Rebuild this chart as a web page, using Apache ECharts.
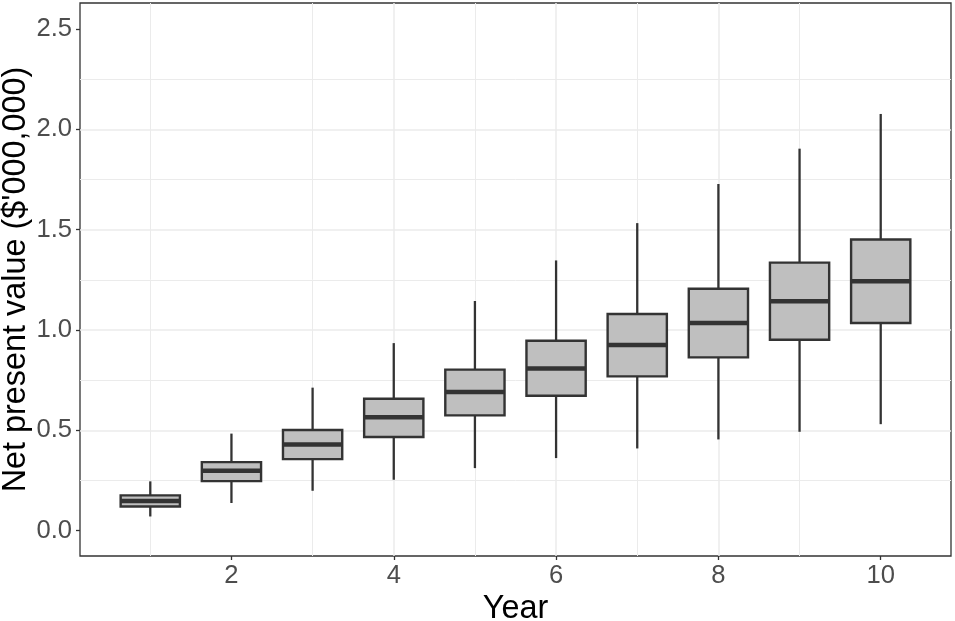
<!DOCTYPE html>
<html><head><meta charset="utf-8">
<script src="https://cdn.jsdelivr.net/npm/echarts@6/dist/echarts.min.js"></script>
<style>html,body{margin:0;padding:0;background:#fff}#c{width:955px;height:621px}</style>
</head><body><div id="c"></div>
<script>
// Data (values in $'000,000)
const years = [1, 2, 3, 4, 5, 6, 7, 8, 9, 10];
const whiskerLow  = [0.071, 0.138, 0.199, 0.254, 0.312, 0.362, 0.410, 0.455, 0.493, 0.531];
const q1          = [0.121, 0.247, 0.357, 0.467, 0.575, 0.673, 0.769, 0.864, 0.952, 1.035];
const median      = [0.148, 0.299, 0.430, 0.565, 0.691, 0.809, 0.925, 1.035, 1.143, 1.243];
const q3          = [0.176, 0.342, 0.502, 0.658, 0.803, 0.947, 1.080, 1.206, 1.336, 1.451];
const whiskerHigh = [0.246, 0.484, 0.713, 0.935, 1.145, 1.347, 1.533, 1.728, 1.904, 2.077];
const xTickValues = [2, 4, 6, 8, 10];
const yTickValues = [0, 0.5, 1, 1.5, 2, 2.5];

const boxData = years.map((y, i) => [y, whiskerLow[i], q1[i], median[i], q3[i], whiskerHigh[i]]);

const BOX_W = 0.73; // box width in x-axis units
const font = '"Liberation Sans", Arial, sans-serif';
const stroke = '#333333';

function renderItem(params, api) {
  const x = api.value(0);
  const pLo = api.coord([x, api.value(1)]);
  const pQ1 = api.coord([x, api.value(2)]);
  const pMed = api.coord([x, api.value(3)]);
  const pQ3 = api.coord([x, api.value(4)]);
  const pHi = api.coord([x, api.value(5)]);
  const w = api.size([BOX_W, 0])[0];
  const cx = pMed[0];
  return {
    type: 'group',
    children: [
      {type: 'line', shape: {x1: cx, y1: pLo[1], x2: cx, y2: pQ1[1]}, style: {stroke: stroke, lineWidth: 2.3}},
      {type: 'line', shape: {x1: cx, y1: pQ3[1], x2: cx, y2: pHi[1]}, style: {stroke: stroke, lineWidth: 2.3}},
      {type: 'rect', shape: {x: cx - w / 2, y: pQ3[1], width: w, height: pQ1[1] - pQ3[1]},
        style: {fill: '#bfbfbf', stroke: stroke, lineWidth: 2.4}},
      {type: 'line', shape: {x1: cx - w / 2, y1: pMed[1], x2: cx + w / 2, y2: pMed[1]},
        style: {stroke: stroke, lineWidth: 4.5}}
    ]
  };
}

const chart = echarts.init(document.getElementById('c'), null, {renderer: 'canvas'});
const option = {
  animation: false,
  backgroundColor: '#ffffff',
  grid: {left: 80, right: 4, top: 3, bottom: 65, show: true, borderColor: stroke, borderWidth: 1.3,
    backgroundColor: '#ffffff', containLabel: false, outerBoundsMode: 'none'},
  xAxis: {
    type: 'value', min: 0.134, max: 10.866, minInterval: 2, maxInterval: 2,
    name: 'Year', nameLocation: 'middle', nameGap: 37, nameMoveOverlap: false,
    nameTextStyle: {fontSize: 32.4, color: '#000000', fontFamily: font},
    axisLine: {show: false, onZero: false},
    axisTick: {show: true, length: 4, customValues: xTickValues, lineStyle: {color: stroke, width: 1.3}},
    axisLabel: {customValues: xTickValues, fontSize: 25.6, color: '#4d4d4d', margin: 7, fontFamily: font},
    splitLine: {show: true, showMinLine: false, showMaxLine: false, lineStyle: {color: '#ebebeb', width: 1.5}},
    minorTick: {show: false, splitNumber: 2},
    minorSplitLine: {show: true, lineStyle: {color: '#ebebeb', width: 1}}
  },
  yAxis: {
    type: 'value', min: -0.126, max: 2.630, minInterval: 0.5, maxInterval: 0.5,
    name: "Net present value ($'000,000)", nameLocation: 'middle', nameGap: 47.5, nameMoveOverlap: false,
    nameTextStyle: {fontSize: 32.4, color: '#000000', fontFamily: font},
    axisLine: {show: false, onZero: false},
    axisTick: {show: true, length: 4, customValues: yTickValues, lineStyle: {color: stroke, width: 1.3}},
    axisLabel: {customValues: yTickValues, fontSize: 25.6, color: '#4d4d4d', margin: 8, fontFamily: font,
      formatter: v => Number(v).toFixed(1)},
    splitLine: {show: true, showMinLine: false, showMaxLine: false, lineStyle: {color: '#ebebeb', width: 1.5}},
    minorTick: {show: false, splitNumber: 2},
    minorSplitLine: {show: true, lineStyle: {color: '#ebebeb', width: 1}}
  },
  series: [{
    type: 'custom', data: boxData, encode: {x: 0, y: [1, 2, 3, 4, 5]},
    renderItem: renderItem, clip: true, z: 3
  }]
};
chart.setOption(option);
</script>
</body></html>
